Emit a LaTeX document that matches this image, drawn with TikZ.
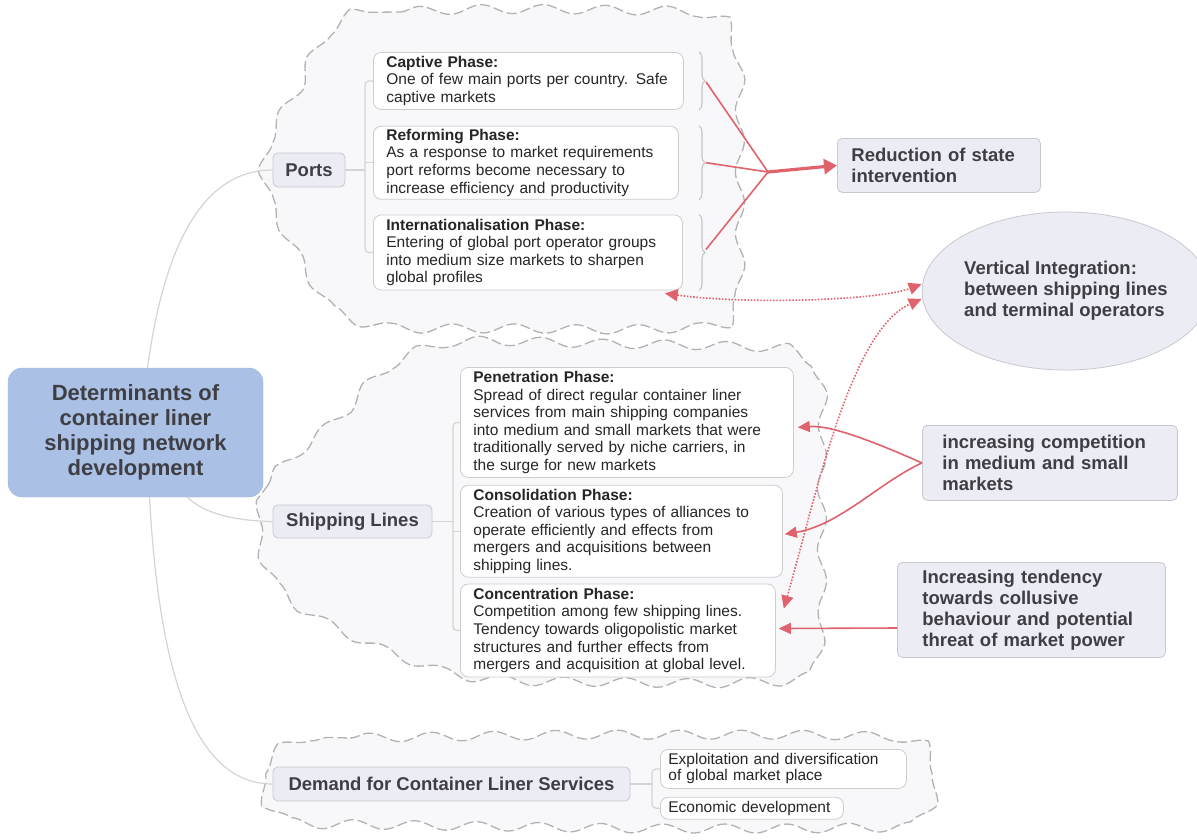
\documentclass[tikz,border=0pt]{standalone}
\usepackage{fontspec}
\setmainfont{Liberation Sans}
\usetikzlibrary{shapes,arrows,arrows.meta,positioning,fit,calc,decorations.pathmorphing,decorations.pathreplacing}

\definecolor{rootblue}{RGB}{170,192,228}
\definecolor{labelfill}{RGB}{236,236,244}
\definecolor{labeldraw}{RGB}{200,200,208}
\definecolor{boxdraw}{RGB}{205,205,205}
\definecolor{linkred}{RGB}{224,98,108}
\definecolor{cloudfill}{RGB}{248,248,250}
\definecolor{clouddraw}{RGB}{178,178,178}
\definecolor{textgray}{RGB}{62,62,68}
\definecolor{branch}{RGB}{212,212,212}

\begin{document}
\begin{tikzpicture}[
  x=1pt, y=-1pt,
  root/.style={rectangle, rounded corners=14pt, fill=rootblue, draw=rootblue!85!gray, align=center, font=\fontsize{22}{25}\selectfont\bfseries, text=textgray, minimum width=255pt, minimum height=129pt},
  topic/.style={rectangle, rounded corners=5pt, fill=labelfill, draw=labeldraw, line width=0.8pt, font=\fontsize{18.5}{21}\selectfont\bfseries, text=textgray, align=left},
  phase/.style={rectangle, rounded corners=8pt, fill=white, draw=boxdraw, line width=0.8pt, align=left, font=\fontsize{15.5}{17.6}\selectfont, text=black!85, inner xsep=13pt, inner ysep=0pt, text width=#1},
  cloudline/.style={draw=clouddraw, fill=cloudfill, line width=1.3pt, dash pattern=on 10pt off 4pt, decorate, decoration={snake, amplitude=4.5pt, segment length=62pt}},
  branchline/.style={draw=branch, line width=1.2pt},
  bracelike/.style={draw=clouddraw!75, line width=1.1pt, decorate, decoration={brace, amplitude=6pt}},
  redlink/.style={draw=linkred, line width=1.6pt},
  redarrow/.style={redlink, -{Triangle[length=12pt,width=11pt]}},
  reddots/.style={draw=linkred, line width=1.6pt, dash pattern=on 1.6pt off 1.6pt, {Triangle[length=13pt,width=12pt]}-{Triangle[length=13pt,width=12pt]}}
]
\useasboundingbox (0,0) rectangle (1197,839);

% clouds
\draw[cloudline] plot[smooth cycle] coordinates {(330,18) (400,12) (470,10) (540,10) (610,11) (680,13) (718,28) (728,70) (728,125) (728,180) (728,240) (727,295) (712,325) (650,331) (580,332) (510,331) (440,331) (375,330) (325,318) (298,285) (275,245) (255,205) (248,170) (258,130) (280,95) (298,55)};
\draw[cloudline] plot[smooth cycle] coordinates {(252,525) (268,485) (300,455) (335,425) (365,390) (400,365) (450,352) (520,352) (590,354) (660,355) (730,357) (795,362) (813,400) (813,460) (813,520) (813,580) (813,640) (800,684) (730,690) (660,690) (590,689) (520,688) (450,682) (390,662) (340,640) (295,615) (262,580)};
\draw[cloudline] plot[smooth cycle] coordinates {(280,740) (350,738) (420,737) (490,736) (560,735) (630,735) (700,735) (770,735) (840,736) (898,740) (918,765) (918,800) (900,826) (840,829) (770,830) (700,830) (630,830) (560,829) (490,828) (420,827) (350,826) (280,824) (252,805) (248,770)};

% main topics
\node[root] (root) at (135.5,432.5) {Determinants of\\container liner\\shipping network\\development};
\node[topic, minimum width=72pt, minimum height=34pt, align=center] (ports) at (309,170) {Ports};
\node[topic, minimum width=159pt, minimum height=33pt, align=center] (ship) at (352.5,521.5) {Shipping Lines};
\node[topic, minimum width=357pt, minimum height=34pt, align=center] (demand) at (451.5,784) {Demand for Container Liner Services};

% port phases
\node[phase=284pt, minimum height=57pt, anchor=north west] (cap) at (373,52) {\textbf{Captive Phase:}\\One of few main ports per country. Safe\\captive markets};
\node[phase=279pt, minimum height=73pt, below=16pt of cap.south west, anchor=north west] (ref) {\textbf{Reforming Phase:}\\As a response to market requirements\\port reforms become necessary to\\increase efficiency and productivity};
\node[phase=283pt, minimum height=75pt, below=15pt of ref.south west, anchor=north west] (intl) {\textbf{Internationalisation Phase:}\\Entering of global port operator groups\\into medium size markets to sharpen\\global profiles};

% shipping phases
\node[phase=307pt, minimum height=110pt, anchor=north west] (pen) at (460,367) {\textbf{Penetration Phase:}\\Spread of direct regular container liner\\services from main shipping companies\\into medium and small markets that were\\traditionally served by niche carriers, in\\the surge for new markets};
\node[phase=296pt, minimum height=92pt, below=7pt of pen.south west, anchor=north west] (cons) {\textbf{Consolidation Phase:}\\Creation of various types of alliances to\\operate efficiently and effects from\\mergers and acquisitions between\\shipping lines.};
\node[phase=289pt, minimum height=93pt, below=6pt of cons.south west, anchor=north west] (conc) {\textbf{Concentration Phase:}\\Competition among few shipping lines.\\Tendency towards oligopolistic market\\structures and further effects from\\mergers and acquisition at global level.};

% demand items
\node[phase=230pt, inner xsep=8pt, minimum height=39pt, font=\fontsize{15.5}{16}\selectfont, anchor=north west] (expl) at (660,749) {Exploitation and diversification\\of global market place};
\node[phase=167pt, inner xsep=8pt, minimum height=22pt, font=\fontsize{15.5}{16}\selectfont, below=8pt of expl.south west, anchor=north west] (econ) {Economic development};

% effects
\node[topic, text width=175pt, inner xsep=14pt, minimum height=54pt, anchor=north west] (red) at (837,138) {Reduction of state\\intervention};
\node[topic, ellipse, minimum width=258pt, minimum height=158pt, inner sep=0pt] (vint) at (1066,291) {Vertical Integration:\\between shipping lines\\and terminal operators};
\node[topic, text width=215pt, inner xsep=20pt, minimum height=75pt, anchor=north west] (comp) at (922,425) {increasing competition\\in medium and small\\markets};
\node[topic, text width=218pt, inner xsep=25pt, minimum height=95pt, anchor=north west] (tend) at (897,562) {Increasing tendency\\towards collusive\\behaviour and potential\\threat of market power};

% branches from the root
\draw[branchline] ($(root.north)+(12,0)$) .. controls (165,240) and (205,170) .. (ports.west);
\draw[branchline] ($(root.south)+(52,0)$) .. controls (205,515) and (240,521) .. (ship.west);
\draw[branchline] ($(root.south)+(14,0)$) .. controls (160,690) and (200,784) .. (demand.west);

% brackets
\coordinate (pbr) at (365,170);
\coordinate (sbr) at (453,521.5);
\coordinate (dbr) at (652,784);
\draw[branchline, rounded corners=4pt] (cap.west) -| (pbr) |- (intl.west);
\draw[branchline] (ports.east) -- (ports.east -| pbr) (ref.west) -- (ref.west -| pbr);
\draw[branchline, rounded corners=4pt] (pen.west) -| (sbr) |- (conc.west);
\draw[branchline] (ship.east) -- (sbr) (cons.west) -- (cons.west -| sbr);
\draw[branchline, rounded corners=4pt] (expl.west) -| (dbr) |- (econ.west);
\draw[branchline] (demand.east) -- (dbr);

% braces right of the port phases
\coordinate (brx) at (699,0);
\draw[bracelike] (cap.north east -| brx) -- (cap.south east -| brx);
\draw[bracelike] (ref.north east -| brx) -- (ref.south east -| brx);
\draw[bracelike] (intl.north east -| brx) -- (intl.south east -| brx);

% red links
\coordinate (merge) at (768,172);
\draw[redlink] ($(cap.east -| brx)+(7,1)$) -- (merge);
\draw[redlink] ($(ref.east -| brx)+(7,0)$) -- (merge);
\draw[redlink] ($(intl.east -| brx)+(7,-3)$) -- (merge);
\draw[draw=linkred, line width=3.2pt, -{Triangle[length=13pt,width=15pt]}] (merge) -- (red.west);
\draw[redarrow] (comp.west) .. controls (870,440) and (830,425) .. ($(pen.east)+(4,5)$);
\draw[redarrow] (comp.west) .. controls (880,482) and (840,525) .. ($(cons.east)+(2,3)$);
\draw[redarrow] (tend.west |- 0,628) -- ($(conc.east)+(3,-2)$);
\draw[reddots] ($(intl.south east)+(-18,3)$) .. controls (750,305) and (880,300) .. ($(vint.west)+(0,-7)$);
\draw[reddots] ($(conc.north east)+(8,25)$) .. controls (815,500) and (850,330) .. ($(vint.west)+(0,8)$);
\end{tikzpicture}
\end{document}
